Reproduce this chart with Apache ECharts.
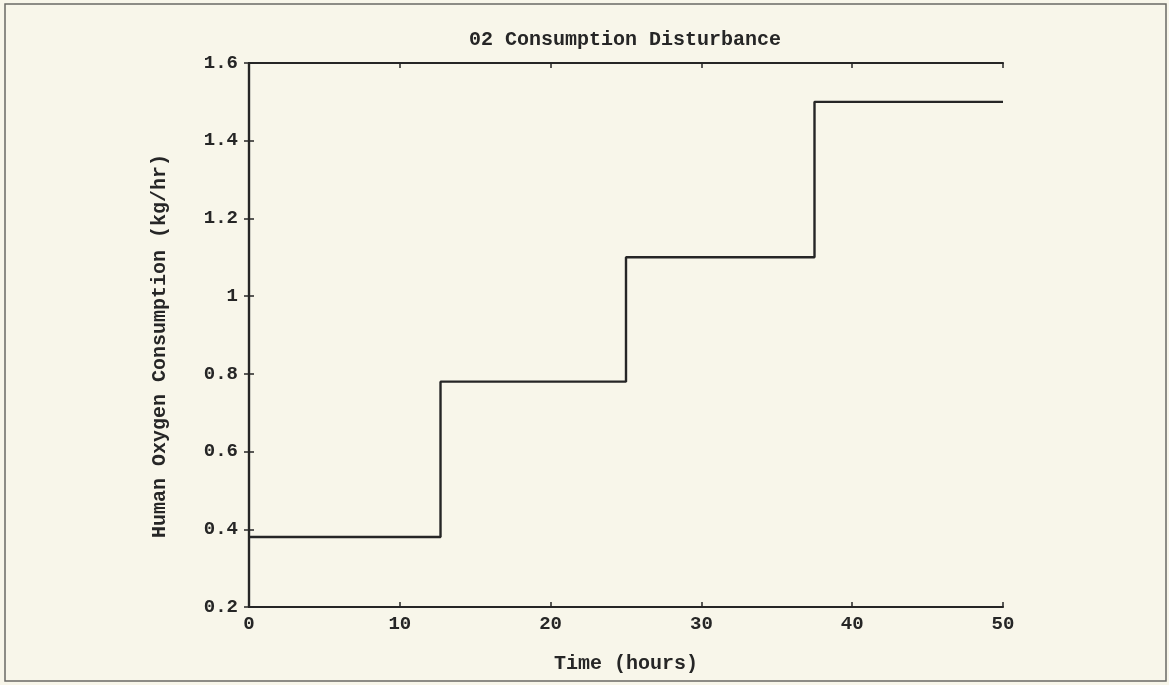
<!DOCTYPE html>
<html>
<head>
<meta charset="utf-8">
<script src="https://cdn.jsdelivr.net/npm/echarts@6/dist/echarts.min.js"></script>
<style>
  html, body { margin: 0; padding: 0; background: #f8f6ea; }
  #chart { width: 1169px; height: 685px; }
</style>
</head>
<body>
<div id="chart"></div>
<script>
// Step times (hours) and the O2 consumption held from each time onward (kg/hr)
const stepTimes = [0, 12.7, 25, 37.5, 50];
const o2Rates = [0.38, 0.78, 1.1, 1.5, 1.5];
const xTicks = [0, 10, 20, 30, 40, 50];
const yTicks = [0.2, 0.4, 0.6, 0.8, 1, 1.2, 1.4, 1.6];

const titleText = '02 Consumption Disturbance';
const xName = 'Time (hours)';
const yName = 'Human Oxygen Consumption (kg/hr)';

const ink = '#262626';
const font = 'Liberation Mono';

const chart = echarts.init(document.getElementById('chart'), null, { renderer: 'canvas' });

const baseAxis = {
  axisLine: { show: true, lineStyle: { color: ink, width: 2.2 } },
  axisTick: { show: true, inside: true, length: 5, lineStyle: { color: ink, width: 1.5 } },
  splitLine: { show: false }
};

chart.setOption({
  backgroundColor: '#f8f6ea',
  animation: false,
  title: {
    text: titleText,
    left: 620,
    textAlign: 'center',
    top: 25,
    textStyle: { fontFamily: font, fontWeight: 'bold', fontSize: 20, color: ink }
  },
  grid: { left: 249, top: 63, right: 166, bottom: 78 },
  xAxis: [
    Object.assign({}, baseAxis, {
      type: 'value', position: 'bottom', min: 0, max: 50, interval: 10,
      name: xName, nameLocation: 'middle', nameGap: 47,
      nameTextStyle: { fontFamily: font, fontWeight: 'bold', fontSize: 20, color: ink },
      axisLabel: {
        fontFamily: font, fontWeight: 'bold', fontSize: 19, color: ink, margin: 8,
        formatter: v => xTicks.includes(v) ? String(v) : ''
      }
    }),
    Object.assign({}, baseAxis, {
      type: 'value', position: 'top', min: 0, max: 50, interval: 10,
      axisLabel: { show: false }
    })
  ],
  yAxis: [
    Object.assign({}, baseAxis, {
      type: 'value', position: 'left', min: 0.2, max: 1.6, interval: 0.2,
      axisLabel: {
        fontFamily: font, fontWeight: 'bold', fontSize: 19, color: ink, margin: 11,
        formatter: v => {
          const t = yTicks.find(y => Math.abs(y - v) < 1e-9);
          return t === undefined ? '' : String(t);
        }
      }
    }),
    Object.assign({}, baseAxis, {
      type: 'value', position: 'right', min: 0.2, max: 1.6, interval: 0.2,
      axisLabel: { show: false }
    })
  ],
  series: [{
    type: 'line',
    step: 'end',
    xAxisIndex: 0,
    yAxisIndex: 0,
    data: stepTimes.map((t, i) => [t, o2Rates[i]]),
    showSymbol: false,
    lineStyle: { color: ink, width: 2.4 }
  }],
  graphic: [
    {
      // vertical axis title, rotated to read bottom-to-top
      type: 'text',
      x: 160,
      y: 346,
      rotation: Math.PI / 2,
      style: {
        text: yName,
        fontFamily: font, fontWeight: 'bold', fontSize: 20, fill: ink,
        align: 'center', verticalAlign: 'middle'
      },
      silent: true
    },
    {
      // page frame
      type: 'rect',
      shape: { x: 5, y: 4, width: 1161, height: 677 },
      style: { fill: 'none', stroke: '#6a6a66', lineWidth: 1.5 },
      silent: true
    }
  ]
});
</script>
</body>
</html>
